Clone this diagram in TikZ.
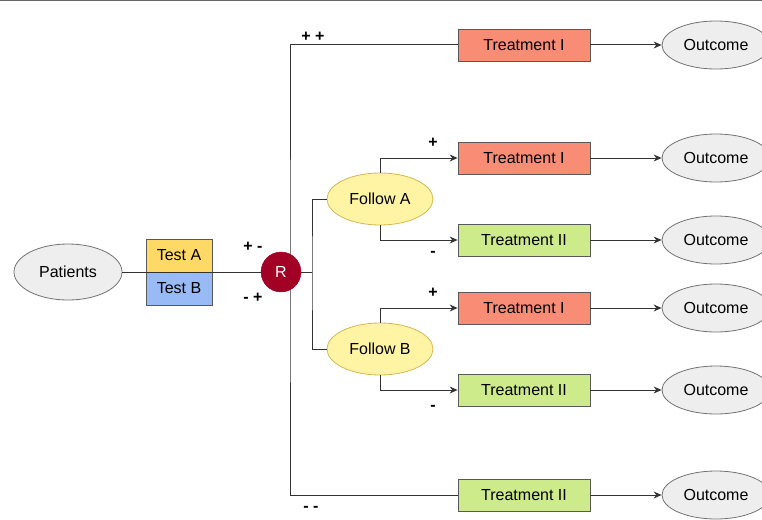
\documentclass[tikz,border=0pt]{standalone}
\usepackage{fontspec}
\setmainfont{Liberation Sans}
\usetikzlibrary{arrows.meta,shapes.geometric}
\definecolor{tone}{HTML}{F88C74}
\definecolor{ttwo}{HTML}{CDEB8B}
\definecolor{tsta}{HTML}{FFD966}
\definecolor{tstb}{HTML}{99BBF5}
\definecolor{folfill}{HTML}{FFF4A3}
\definecolor{folline}{HTML}{D6B656}
\definecolor{ellfill}{HTML}{EEEEEE}
\definecolor{rred}{HTML}{A20025}
\begin{document}
\begin{tikzpicture}[x=1pt,y=-1pt,
  font=\fontsize{16}{18}\selectfont,
  conn/.style={draw=black!80, line width=1pt},
  arr/.style={conn, -{Stealth[length=8pt,width=7pt]}},
  greyell/.style={ellipse, draw=black!55, fill=ellfill, line width=0.8pt, inner sep=0pt, minimum width=108pt},
  treat/.style={rectangle, draw=black!65, line width=0.8pt, minimum width=132pt, minimum height=32pt, inner sep=0pt},
  testbox/.style={rectangle, draw=black!65, line width=0.8pt, minimum width=66pt, minimum height=33pt, inner sep=0pt},
  follow/.style={ellipse, draw=folline, fill=folfill, line width=0.8pt, minimum width=106pt, minimum height=52pt, inner sep=0pt},
  sign/.style={font=\bfseries\fontsize{16}{18}\selectfont, inner sep=0pt}]
\useasboundingbox (0,0) rectangle (762,519);
\draw[draw=black!60, line width=1pt] (0,0.8) coordinate (tl) -- (762,0.8) coordinate (tr);

% nodes
\node[greyell, minimum height=56pt] (pat) at (68,272) {Patients};
\node[testbox, fill=tsta] (ta) at (179,255.5) {Test A};
\node[testbox, fill=tstb] (tb) at (179,288.5) {Test B};

\node[treat, fill=tone] (t1) at (524,45) {Treatment I};
\node[treat, fill=tone] (t2) at (524,158) {Treatment I};
\node[treat, fill=ttwo] (t3) at (524,240) {Treatment II};
\node[treat, fill=tone] (t4) at (524,308) {Treatment I};
\node[treat, fill=ttwo] (t5) at (524,390) {Treatment II};
\node[treat, fill=ttwo] (t6) at (524,495) {Treatment II};

\node[greyell, minimum height=48pt] (o1) at (716,45) {Outcome};
\node[greyell, minimum height=48pt] (o2) at (716,158) {Outcome};
\node[greyell, minimum height=48pt] (o3) at (716,240) {Outcome};
\node[greyell, minimum height=48pt] (o4) at (716,308) {Outcome};
\node[greyell, minimum height=48pt] (o5) at (716,390) {Outcome};
\node[greyell, minimum height=48pt] (o6) at (716,495) {Outcome};

\node[follow] (fa) at (380,199) {Follow A};
\node[follow] (fb) at (380,349) {Follow B};

\coordinate (tk) at (290,272);
\coordinate (fk) at (312,272);

% connectors under R
\draw[conn] (pat.east) -- (tk);
\draw[conn] (t1.west) -| (tk) |- (t6.west);

\node[circle, fill=rred, draw=rred, minimum size=40pt, inner sep=0pt, text=white] (R) at (281,272) {R};

\draw[conn] (R.east) -- (fk);
\draw[conn] (fa.west) -| (fk) |- (fb.west);

\draw[arr] (fa.north) |- (t2.west);
\draw[arr] (fa.south) |- (t3.west);
\draw[arr] (fb.north) |- (t4.west);
\draw[arr] (fb.south) |- (t5.west);

\foreach \i in {1,...,6} {\draw[arr] (t\i.east) -- (o\i.west);}

% signs
\node[sign] (s1) at (313,37) {+ +};
\node[sign] (s2) at (253,247) {+ -};
\node[sign] (s3) at (253,298) {- +};
\node[sign] (s4) at (311,509) {- -};
\node[sign] (s5) at (433,143) {+};
\node[sign] (s6) at (433,254) {-};
\node[sign] (s7) at (433,293) {+};
\node[sign] (s8) at (433,408) {-};
\end{tikzpicture}
\end{document}
